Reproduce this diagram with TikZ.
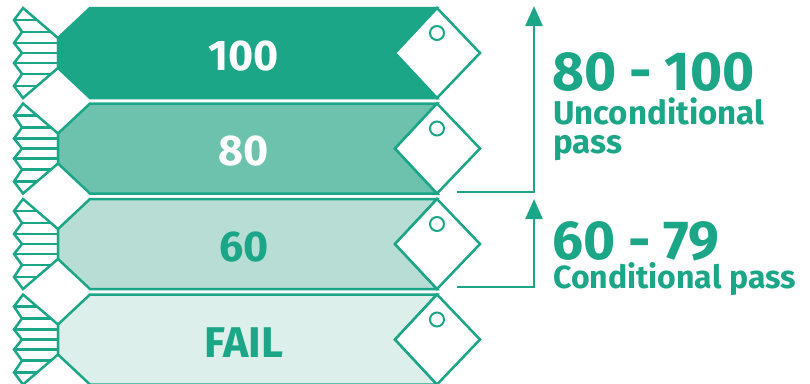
\documentclass[tikz,border=0pt]{standalone}
\usepackage{fontspec}
\setmainfont{Fira Sans}
\usetikzlibrary{arrows.meta, positioning}
\definecolor{gradeA}{RGB}{27,166,136}
\definecolor{gradeB}{RGB}{109,194,173}
\definecolor{gradeC}{RGB}{183,221,212}
\definecolor{gradeD}{RGB}{220,239,234}

\begin{document}
\begin{tikzpicture}[x=1pt, y=-1pt, line width=2.5pt, every node/.style={font=\bfseries, text=gradeA, inner sep=0pt},
    tagbox/.style={draw=gradeA, fill=white},
    feather/.style={draw=gradeA, fill=white, line width=2.5pt}]
  \useasboundingbox (0,0) rectangle (810,383);
  \foreach \k/\fc/\tc/\lbl in {0/gradeA/white/100, 1/gradeB/white/80, 2/gradeC/gradeA/60, 3/gradeD/gradeA/FAIL} {
    \begin{scope}[shift={(0,8+95.5*\k)}]
      \draw[feather] (23,0) -- (58,30) -- (58,60) -- (23,90) -- (14,78) -- (22,66) -- (14,55) -- (22,45) -- (14,35) -- (22,24) -- (14,12) -- cycle;
      \draw[feather] (14,12) -- (37,12) (22,24) -- (51,24) (14,35) -- (58,35) (22,45) -- (58,45) (14,55) -- (58,55) (22,66) -- (51,66) (14,78) -- (37,78);
      \draw[draw=gradeA, fill=\fc] (58,30) -- (90,0) -- (437,0) -- (395,45) -- (437,90) -- (90,90) -- (58,60) -- cycle;
      \draw[tagbox] (437,0) -- (480,45) -- (437,90) -- (395,45) -- cycle;
      \draw[tagbox, line width=2pt] (437,25) circle (7pt);
      \node[text=\tc] (g\k) at (244,48) {\fontsize{43}{43}\selectfont \lbl};
    \end{scope}
  }
  \coordinate (s1) at (457,192);
  \coordinate (c1) at (534,192);
  \coordinate (e1) at (534,6);
  \coordinate (s2) at (457,287);
  \coordinate (c2) at (534,287);
  \coordinate (e2) at (534,199);
  \draw[draw=gradeA, -{Triangle[length=20pt, width=17pt]}] (s1) -- (c1) -- (e1);
  \draw[draw=gradeA, -{Triangle[length=20pt, width=17pt]}] (s2) -- (c2) -- (e2);
  \node[anchor=base west] (r1) at (551,90) {\fontsize{55}{55}\selectfont 80 - 100};
  \node[anchor=base west] (d1) at (552,124) {\fontsize{33}{33}\selectfont Unconditional};
  \node[anchor=base west] (d1b) at (552,153) {\fontsize{33}{33}\selectfont pass};
  \node[anchor=base west] (r2) at (551,259) {\fontsize{55}{55}\selectfont 60 - 79};
  \node[anchor=base west] (d2) at (552,288) {\fontsize{32}{32}\selectfont Conditional pass};
\end{tikzpicture}
\end{document}
